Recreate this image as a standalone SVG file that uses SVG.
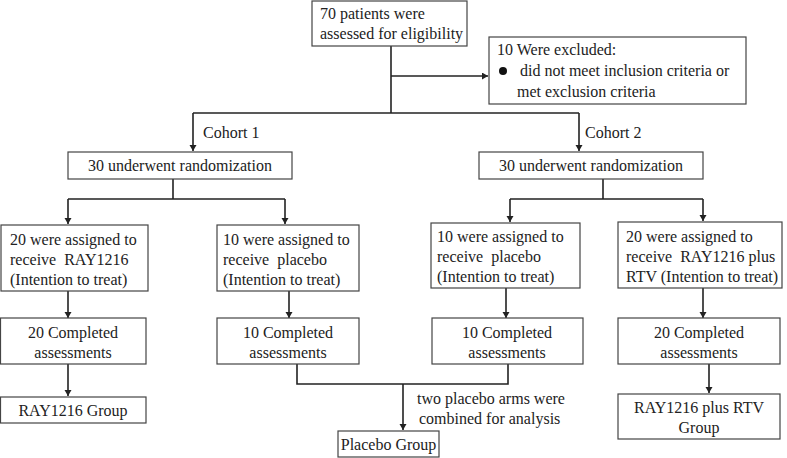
<svg xmlns="http://www.w3.org/2000/svg" width="787" height="458" viewBox="0 0 787 458">
<defs>
<style>
.box{fill:#fff;stroke:#444;stroke-width:1.2}
.t{font-family:'Liberation Serif','Times New Roman',Tinos,'DejaVu Serif',serif;font-size:16px;fill:#222}
.c{text-anchor:middle}
.ln{fill:none;stroke:#222;stroke-width:1.6}
</style>
<marker id="ah" markerUnits="userSpaceOnUse" markerWidth="8" markerHeight="8" refX="6" refY="3.5" orient="auto">
<path d="M0,0 L6,3.5 L0,7 z" fill="#222"/>
</marker>
</defs>
<rect width="787" height="458" fill="#fff"/>
<g id="connectors">
<path class="ln" d="M391,46 V113"/>
<path class="ln" d="M391,76 H488" marker-end="url(#ah)"/>
<path class="ln" d="M193,113 H579"/>
<path class="ln" d="M193,113 V151" marker-end="url(#ah)"/>
<path class="ln" d="M579,113 V151" marker-end="url(#ah)"/>
<path class="ln" d="M173,179 V199 M68,199 H285"/>
<path class="ln" d="M68,199 V224" marker-end="url(#ah)"/>
<path class="ln" d="M285,199 V224" marker-end="url(#ah)"/>
<path class="ln" d="M603,179 V199 M510,199 H703"/>
<path class="ln" d="M510,199 V222" marker-end="url(#ah)"/>
<path class="ln" d="M703,199 V221" marker-end="url(#ah)"/>
<path class="ln" d="M68,291 V318" marker-end="url(#ah)"/>
<path class="ln" d="M289,291 V318" marker-end="url(#ah)"/>
<path class="ln" d="M506,288 V318" marker-end="url(#ah)"/>
<path class="ln" d="M703,288 V318" marker-end="url(#ah)"/>
<path class="ln" d="M68,364 V396" marker-end="url(#ah)"/>
<path class="ln" d="M297,364 V384 H508 V364"/>
<path class="ln" d="M403,384 V430" marker-end="url(#ah)"/>
<path class="ln" d="M709,364 V393" marker-end="url(#ah)"/>
</g>
<g id="assessed">
<rect class="box" x="312" y="1" width="155" height="45"/>
<text class="t" x="320" y="19">70 patients were</text>
<text class="t" x="320" y="39">assessed for eligibility</text>
</g>
<g id="excluded">
<rect class="box" x="489" y="37" width="257" height="67"/>
<text class="t" x="497" y="55">10 Were excluded:</text>
<circle cx="503" cy="71" r="4" fill="#111"/>
<text class="t" x="520" y="76">did not meet inclusion criteria or</text>
<text class="t" x="517" y="97">met exclusion criteria</text>
</g>
<g id="cohort-labels">
<text class="t" x="203" y="138">Cohort 1</text>
<text class="t" x="585" y="138">Cohort 2</text>
</g>
<g id="rand1">
<rect class="box" x="68" y="152" width="224" height="27"/>
<text class="t c" x="180" y="171">30 underwent randomization</text>
</g>
<g id="rand2">
<rect class="box" x="479" y="152" width="224" height="27"/>
<text class="t c" x="591" y="171">30 underwent randomization</text>
</g>
<g id="assignA">
<rect class="box" x="1" y="225" width="147" height="66"/>
<text class="t" x="10" y="245">20 were assigned to</text>
<text class="t" x="10" y="265" xml:space="preserve">receive  RAY1216</text>
<text class="t" x="10" y="285">(Intention to treat)</text>
</g>
<g id="assignB">
<rect class="box" x="217" y="225" width="142" height="66"/>
<text class="t" x="223" y="245">10 were assigned to</text>
<text class="t" x="223" y="265" xml:space="preserve">receive  placebo</text>
<text class="t" x="223" y="285">(Intention to treat)</text>
</g>
<g id="assignC">
<rect class="box" x="431" y="223" width="149" height="65"/>
<text class="t" x="437" y="242">10 were assigned to</text>
<text class="t" x="437" y="262" xml:space="preserve">receive  placebo</text>
<text class="t" x="437" y="282">(Intention to treat)</text>
</g>
<g id="assignD">
<rect class="box" x="618" y="222" width="164" height="66"/>
<text class="t" x="626" y="242">20 were assigned to</text>
<text class="t" x="626" y="262" xml:space="preserve">receive  RAY1216 plus</text>
<text class="t" x="626" y="282">RTV (Intention to treat)</text>
</g>
<g id="completeA">
<rect class="box" x="0.5" y="318" width="145.5" height="46"/>
<text class="t c" x="73" y="338">20 Completed</text>
<text class="t c" x="73" y="358">assessments</text>
</g>
<g id="completeB">
<rect class="box" x="217" y="318" width="142" height="46"/>
<text class="t c" x="288" y="338">10 Completed</text>
<text class="t c" x="288" y="358">assessments</text>
</g>
<g id="completeC">
<rect class="box" x="432" y="318" width="151" height="46"/>
<text class="t c" x="507" y="338">10 Completed</text>
<text class="t c" x="507" y="358">assessments</text>
</g>
<g id="completeD">
<rect class="box" x="618" y="318" width="162" height="46"/>
<text class="t c" x="699" y="338">20 Completed</text>
<text class="t c" x="699" y="358">assessments</text>
</g>
<g id="ray-group">
<rect class="box" x="0.5" y="397" width="145.5" height="26"/>
<text class="t c" x="73" y="416">RAY1216 Group</text>
</g>
<g id="combined-label">
<text class="t" x="417" y="404">two placebo arms were</text>
<text class="t" x="419" y="424">combined for analysis</text>
</g>
<g id="placebo-group">
<rect class="box" x="338" y="431" width="101" height="26"/>
<text class="t c" x="388.5" y="450">Placebo Group</text>
</g>
<g id="rtv-group">
<rect class="box" x="618" y="394" width="162" height="45"/>
<text class="t c" x="699" y="413">RAY1216 plus RTV</text>
<text class="t c" x="699" y="433">Group</text>
</g>
</svg>
